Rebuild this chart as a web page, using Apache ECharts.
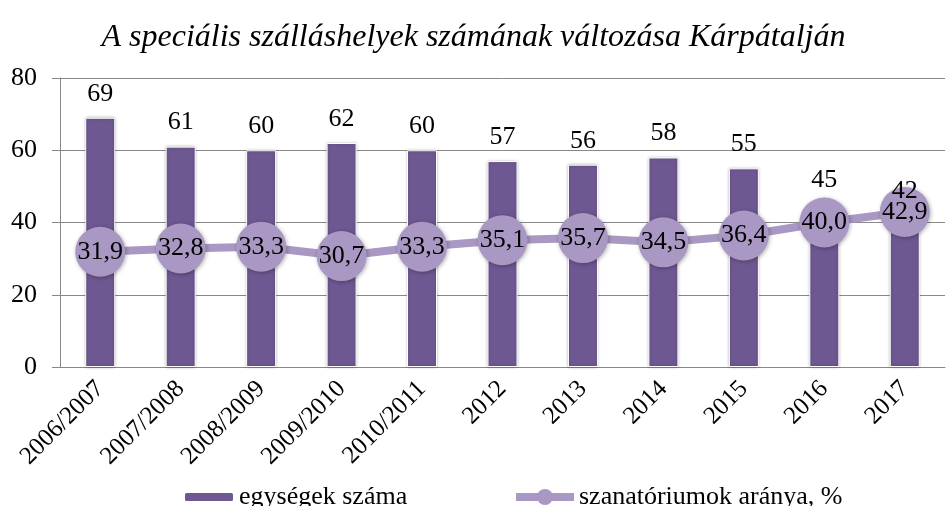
<!DOCTYPE html>
<html>
<head>
<meta charset="utf-8">
<script src="https://cdn.jsdelivr.net/npm/echarts@6/dist/echarts.min.js"></script>
<style>
  html, body { margin: 0; padding: 0; background: #fff; }
  #chart { width: 947px; height: 506px; }
</style>
</head>
<body>
<div id="chart"></div>
<script>
// adatok
const categories = ['2006/2007', '2007/2008', '2008/2009', '2009/2010', '2010/2011', '2012', '2013', '2014', '2015', '2016', '2017']
const unitCounts = [69, 61, 60, 62, 60, 57, 56, 58, 55, 45, 42]
const sanatoriumShare = [31.9, 32.8, 33.3, 30.7, 33.3, 35.1, 35.7, 34.5, 36.4, 40.0, 42.9]

const font = '"Liberation Serif", "Times New Roman", serif'
const barColor = '#6e5891'
const lineColor = '#a898c3'

const chart = echarts.init(document.getElementById('chart'))
chart.setOption({
  animation: false,
  title: {
    text: 'A speciális szálláshelyek számának változása Kárpátalján',
    left: 'center',
    top: 17,
    textStyle: { fontFamily: font, fontStyle: 'italic', fontWeight: 'normal', fontSize: 32, color: '#000' }
  },
  grid: { left: 60, right: 2, top: 78, bottom: 139 },
  legend: [
    {
      data: ['egységek száma'],
      left: 178,
      top: 479,
      itemWidth: 50,
      itemHeight: 10,
      textStyle: { fontFamily: font, fontSize: 26, color: '#000' }
    },
    {
      data: ['szanatóriumok aránya, %'],
      left: 507,
      top: 479,
      itemWidth: 58,
      itemHeight: 20,
      lineStyle: { width: 8 },
      textStyle: { fontFamily: font, fontSize: 26, color: '#000' }
    }
  ],
  xAxis: {
    type: 'category',
    data: categories,
    axisLine: { lineStyle: { color: '#888', width: 1 } },
    axisTick: { length: 7, lineStyle: { color: '#888' } },
    axisLabel: { rotate: 45, margin: 18, fontFamily: font, fontSize: 25, color: '#000' }
  },
  yAxis: {
    type: 'value',
    min: 0,
    max: 80,
    interval: 20,
    axisLine: { show: true, lineStyle: { color: '#888', width: 1 } },
    axisTick: { show: true, length: 8, lineStyle: { color: '#888' } },
    splitLine: { lineStyle: { color: '#888', width: 1 } },
    axisLabel: { margin: 23, fontFamily: font, fontSize: 26, color: '#000' }
  },
  series: [
    {
      name: 'egységek száma',
      type: 'bar',
      data: unitCounts,
      barWidth: 30,
      itemStyle: { color: barColor, borderColor: '#fff', borderWidth: 1, shadowBlur: 3, shadowColor: 'rgba(0,0,0,0.3)' },
      z: 2
    },
    {
      name: 'szanatóriumok aránya, %',
      type: 'line',
      data: sanatoriumShare,
      z: 5,
      symbol: 'circle',
      symbolSize: 50,
      lineStyle: { color: lineColor, width: 8 },
      itemStyle: { color: lineColor, shadowBlur: 4, shadowOffsetX: 1, shadowOffsetY: 1, shadowColor: 'rgba(0,0,0,0.3)' },
      label: {
        show: true,
        position: 'inside',
        fontFamily: font,
        fontSize: 26,
        color: '#000',
        formatter: p => p.value.toFixed(1).replace('.', ',')
      }
    },
    {
      // csak a feliratok, a kör fölött
      name: 'feliratok',
      type: 'bar',
      data: unitCounts,
      barWidth: 30,
      barGap: '-100%',
      z: 10,
      silent: true,
      itemStyle: { color: 'rgba(0,0,0,0)' },
      label: { show: true, position: 'top', distance: 11, fontFamily: font, fontSize: 26, color: '#000' }
    }
  ]
})
</script>
</body>
</html>
